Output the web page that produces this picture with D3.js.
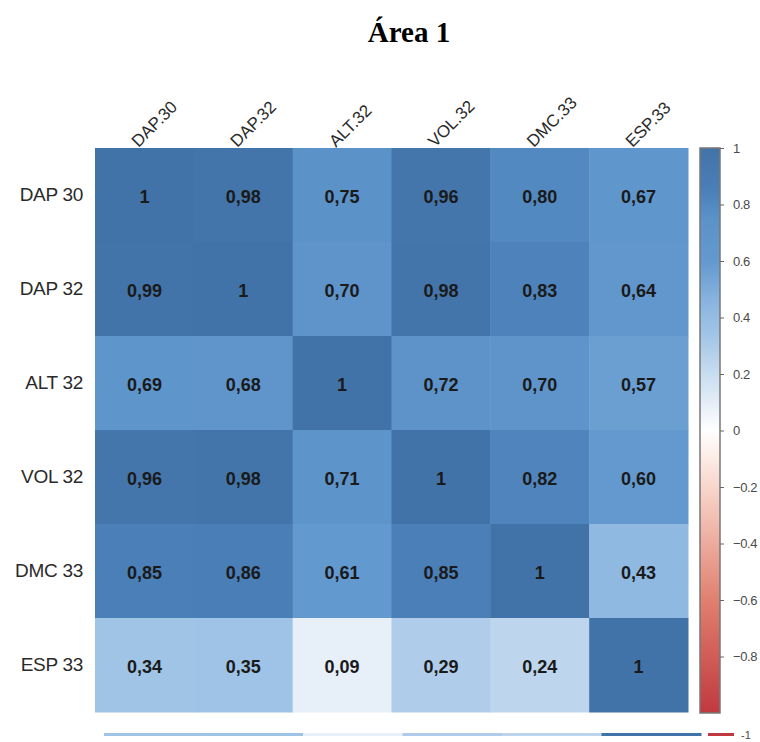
<!DOCTYPE html>
<html>
<head>
<meta charset="utf-8">
<script src="https://cdn.jsdelivr.net/npm/d3@7"></script>
<style>
  body { margin: 0; background: #fff; }
  svg { display: block; }
</style>
</head>
<body>
<svg id="chart" width="760" height="742"></svg>
<script>
// data
let rowLabels = ["DAP 30", "DAP 32", "ALT 32", "VOL 32", "DMC 33", "ESP 33"];
let colLabels = ["DAP.30", "DAP.32", "ALT.32", "VOL.32", "DMC.33", "ESP.33"];
let values = [
    [1, 0.98, 0.75, 0.96, 0.80, 0.67],
    [0.99, 1, 0.70, 0.98, 0.83, 0.64],
    [0.69, 0.68, 1, 0.72, 0.70, 0.57],
    [0.96, 0.98, 0.71, 1, 0.82, 0.60],
    [0.85, 0.86, 0.61, 0.85, 1, 0.43],
    [0.34, 0.35, 0.09, 0.29, 0.24, 1]
];
let legendTicks = [1, 0.8, 0.6, 0.4, 0.2, 0, -0.2, -0.4, -0.6, -0.8];

let svg = d3.select("#chart");

let cells = [];
values.forEach((row, i) => {
    row.forEach((v, j) => {
        cells.push({row: rowLabels[i], col: colLabels[j], value: v});
    });
});

let xScale = d3.scaleBand().domain(colLabels).range([95, 688]),
    yScale = d3.scaleBand().domain(rowLabels).range([148, 712]);

let color = d3.scaleLinear()
    .domain([-1, -0.6, -0.2, 0, 0.09, 0.24, 0.34, 0.43, 0.6, 0.75, 0.85, 1])
    .range(["#c0393f", "#e0806f", "#f8d6cc", "#ffffff", "#e7eff8", "#bdd6ed",
            "#a0c4e6", "#90b9e2", "#6399ce", "#5b92c8", "#4a7fb7", "#4273a8"])
    .clamp(true);

function fmt(v) {
    if (v === 1) return "1";
    return v.toFixed(2).replace(".", ",");
}

// title
svg.append("text")
    .attr("x", 409)
    .attr("y", 42)
    .attr("text-anchor", "middle")
    .style("font-family", "'Liberation Serif', 'Times New Roman', serif")
    .style("font-weight", "bold")
    .style("font-size", "29px")
    .text("Área 1");

// cells
svg.append("g")
    .selectAll("rect")
    .data(cells)
    .enter()
    .append("rect")
    .attr("x", d => xScale(d.col))
    .attr("y", d => yScale(d.row))
    .attr("width", xScale.bandwidth() + 0.5)
    .attr("height", yScale.bandwidth() + 0.5)
    .attr("fill", d => color(d.value));

svg.append("g")
    .selectAll("text")
    .data(cells)
    .enter()
    .append("text")
    .attr("x", d => xScale(d.col) + xScale.bandwidth() / 2)
    .attr("y", d => yScale(d.row) + yScale.bandwidth() / 2 + 3)
    .attr("text-anchor", "middle")
    .attr("dominant-baseline", "middle")
    .style("font-family", "'Liberation Sans', Arial, sans-serif")
    .style("font-weight", "bold")
    .style("font-size", "18px")
    .style("fill", "#1a1a1a")
    .text(d => fmt(d.value));

// row labels
svg.append("g")
    .selectAll("text")
    .data(rowLabels)
    .enter()
    .append("text")
    .attr("x", 83)
    .attr("y", d => yScale(d) + yScale.bandwidth() / 2 + 1)
    .attr("text-anchor", "end")
    .attr("dominant-baseline", "middle")
    .style("font-family", "'Liberation Sans', Arial, sans-serif")
    .style("font-size", "19px")
    .style("letter-spacing", "-0.3px")
    .style("fill", "#2a2a2a")
    .text(d => d);

// column labels
svg.append("g")
    .selectAll("text")
    .data(colLabels)
    .enter()
    .append("text")
    .attr("transform", d => "translate(" + (xScale(d) + xScale.bandwidth() / 2 - 6) + ",148) rotate(-45)")
    .attr("text-anchor", "start")
    .style("font-family", "'Liberation Sans', Arial, sans-serif")
    .style("font-size", "17px")
    .style("fill", "#2a2a2a")
    .text(d => d);

// colour bar
let legendScale = d3.scaleLinear().domain([1, -1]).range([148, 713]);

let grad = svg.append("defs").append("linearGradient")
    .attr("id", "cbar")
    .attr("x1", 0).attr("y1", 0).attr("x2", 0).attr("y2", 1);
d3.range(0, 41).forEach(k => {
    let v = 1 - k / 20;
    grad.append("stop")
        .attr("offset", (k / 40 * 100) + "%")
        .attr("stop-color", color(v));
});

svg.append("rect")
    .attr("x", 700)
    .attr("y", legendScale(1))
    .attr("width", 20)
    .attr("height", legendScale(-1) - legendScale(1))
    .attr("fill", "url(#cbar)")
    .attr("stroke", "#777")
    .attr("stroke-width", 1.5);

let legendAxis = svg.append("g")
    .attr("transform", "translate(720,0)")
    .call(d3.axisRight(legendScale).tickValues(legendTicks).tickSize(4).tickPadding(9)
        .tickFormat(d => d3.format("")(Math.round(d * 10) / 10)));
legendAxis.select(".domain").remove();
legendAxis.selectAll("line").attr("stroke", "#666");
legendAxis.selectAll("text")
    .style("font-family", "'Liberation Sans', Arial, sans-serif")
    .style("font-size", "13px")
    .style("letter-spacing", "-0.4px")
    .style("fill", "#4a4a4a");

// squashed strip under the chart
let stripX = d3.scaleBand().domain(colLabels).range([104, 701]);
svg.append("g")
    .selectAll("rect")
    .data(values[values.length - 1])
    .enter()
    .append("rect")
    .attr("x", (d, i) => stripX(colLabels[i]))
    .attr("y", 733)
    .attr("width", stripX.bandwidth() + 0.5)
    .attr("height", 3)
    .attr("fill", d => color(d));

svg.append("rect")
    .attr("x", 708)
    .attr("y", 733)
    .attr("width", 26)
    .attr("height", 3)
    .attr("fill", color(-1));

svg.append("text")
    .attr("x", 741)
    .attr("y", 739)
    .style("font-family", "'Liberation Sans', Arial, sans-serif")
    .style("font-size", "11px")
    .style("fill", "#4a4a4a")
    .text("-1");
</script>
</body>
</html>
